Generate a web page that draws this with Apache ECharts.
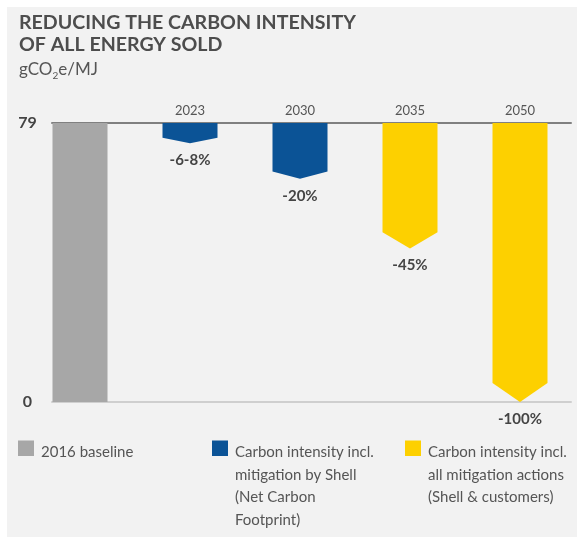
<!DOCTYPE html>
<html>
<head>
<meta charset="utf-8">
<script src="https://cdn.jsdelivr.net/npm/echarts@6/dist/echarts.min.js"></script>
<style>
  html, body { margin: 0; padding: 0; background: #ffffff; }
  #chart { width: 577px; height: 542px; }
</style>
</head>
<body>
<div id="chart"></div>
<script>
// ---- data ----
const yearLabels = ['', '2023', '2030', '2035', '2050'];
const baselineValues = [79, null, null, null, null];
const shellMitigation = [null, 73.3, 63.2, null, null];
const allMitigation = [null, null, null, 43.45, 0];
const changeLabels = ['', '-6-8%', '-20%', '-45%', '-100%'];
const yTicks = [0, 79];
const legendLabels = [
  '2016 baseline',
  'Carbon intensity incl.\nmitigation by Shell\n(Net Carbon\nFootprint)',
  'Carbon intensity incl.\nall mitigation actions\n(Shell & customers)'
];

// ---- styles ----
const FONT = 'Lato, "Open Sans", sans-serif';
const colors = { baseline: '#a7a7a7', shell: '#0b5396', all: '#fdd000' };
const yMax = yTicks[yTicks.length - 1];

function toItems(arr) {
  const out = [];
  arr.forEach((v, i) => { if (v !== null) out.push([i, v]); });
  return out;
}

function baselineRender(params, api) {
  const i = api.value(0);
  const top = api.coord([i, api.value(1)]);
  const bot = api.coord([i, 0]);
  const w = api.size([1, 0])[0] * 0.5;
  return {
    type: 'rect',
    shape: { x: top[0] - w / 2, y: top[1], width: w, height: bot[1] - top[1] },
    style: { fill: api.visual('color') }
  };
}

function chevronRender(params, api) {
  const i = api.value(0);
  const top = api.coord([i, yMax]);
  const tip = api.coord([i, api.value(1)]);
  const w = api.size([1, 0])[0] * 0.5;
  const len = tip[1] - top[1];
  const d = Math.min(19, Math.max(5.5, len * 0.13));
  const x = top[0];
  return {
    type: 'group',
    children: [
      {
        type: 'polygon',
        shape: { points: [[x - w / 2, top[1]], [x + w / 2, top[1]], [x + w / 2, tip[1] - d], [x, tip[1]], [x - w / 2, tip[1] - d]] },
        style: { fill: api.visual('color') }
      },
      {
        type: 'text',
        x: x, y: tip[1] + 17,
        style: {
          text: changeLabels[i], textAlign: 'center', textVerticalAlign: 'middle',
          font: 'bold 15px ' + FONT, fill: '#444444'
        }
      }
    ]
  };
}

const chart = echarts.init(document.getElementById('chart'), null, { renderer: 'canvas' });

const xMin = -0.2545, xMax = 4.4636;

function legendItem(x, color, text) {
  return [
    { type: 'rect', z: 100, shape: { x: x, y: 440.5, width: 16, height: 15.5 }, style: { fill: color } },
    { type: 'text', z: 100, x: x + 23, y: 441, style: { text: text, font: '15px ' + FONT, fill: '#555555', lineHeight: 22.5, textVerticalAlign: 'top' } }
  ];
}

const option = {
  backgroundColor: '#ffffff',
  animation: false,
  grid: { left: 52, right: 6, top: 123, bottom: 140, containLabel: false },
  xAxis: [
    {
      type: 'value', position: 'top', min: xMin, max: xMax,
      axisLine: { show: true, onZero: false, lineStyle: { color: '#808080', width: 2 } },
      axisTick: { show: false }, splitLine: { show: false },
      axisLabel: {
        show: true, customValues: [1, 2, 3, 4],
        formatter: v => yearLabels[Math.round(v)] || '',
        margin: 6, color: '#555555', fontSize: 13, fontFamily: FONT
      }
    },
    {
      type: 'value', position: 'bottom', min: xMin, max: xMax,
      axisLine: { show: true, onZero: false, lineStyle: { color: '#cfcfcf', width: 2 } },
      axisTick: { show: false }, splitLine: { show: false }, axisLabel: { show: false }
    }
  ],
  yAxis: {
    type: 'value', min: yTicks[0], max: yMax, interval: yMax - yTicks[0],
    axisLine: { show: false }, axisTick: { show: false }, splitLine: { show: false },
    axisLabel: { align: 'center', margin: 24.5, color: '#444444', fontWeight: 'bold', fontSize: 16, fontFamily: FONT }
  },
  series: [
    { name: legendLabels[0], type: 'custom', xAxisIndex: 0, renderItem: baselineRender, itemStyle: { color: colors.baseline }, data: toItems(baselineValues), z: 1 },
    { name: legendLabels[1], type: 'custom', xAxisIndex: 0, renderItem: chevronRender, itemStyle: { color: colors.shell }, data: toItems(shellMitigation), z: 1 },
    { name: legendLabels[2], type: 'custom', xAxisIndex: 0, renderItem: chevronRender, itemStyle: { color: colors.all }, data: toItems(allMitigation), z: 1 }
  ],
  graphic: [
    { type: 'rect', z: -100, silent: true, shape: { x: 7, y: 7, width: 570, height: 530 }, style: { fill: '#f2f2f2' } },
    {
      type: 'text', z: 100, x: 19, y: 33.5,
      style: { text: 'REDUCING THE CARBON INTENSITY\nOF ALL ENERGY SOLD', font: 'bold 19.6px ' + FONT, fill: '#4d4d4d', lineHeight: 22.5, textVerticalAlign: 'middle' }
    },
    {
      type: 'text', z: 100, x: 19, y: 70,
      style: {
        text: '{a|gCO}{b|2}{a|e/MJ}', textVerticalAlign: 'middle',
        rich: {
          a: { font: '17px ' + FONT, fill: '#555555', verticalAlign: 'bottom' },
          b: { font: '10px ' + FONT, fill: '#555555', verticalAlign: 'bottom', padding: [0, 0, -2, 0] }
        }
      }
    },
    ...legendItem(18, colors.baseline, legendLabels[0]),
    ...legendItem(212, colors.shell, legendLabels[1]),
    ...legendItem(405, colors.all, legendLabels[2])
  ]
};

chart.setOption(option);
</script>
</body>
</html>
